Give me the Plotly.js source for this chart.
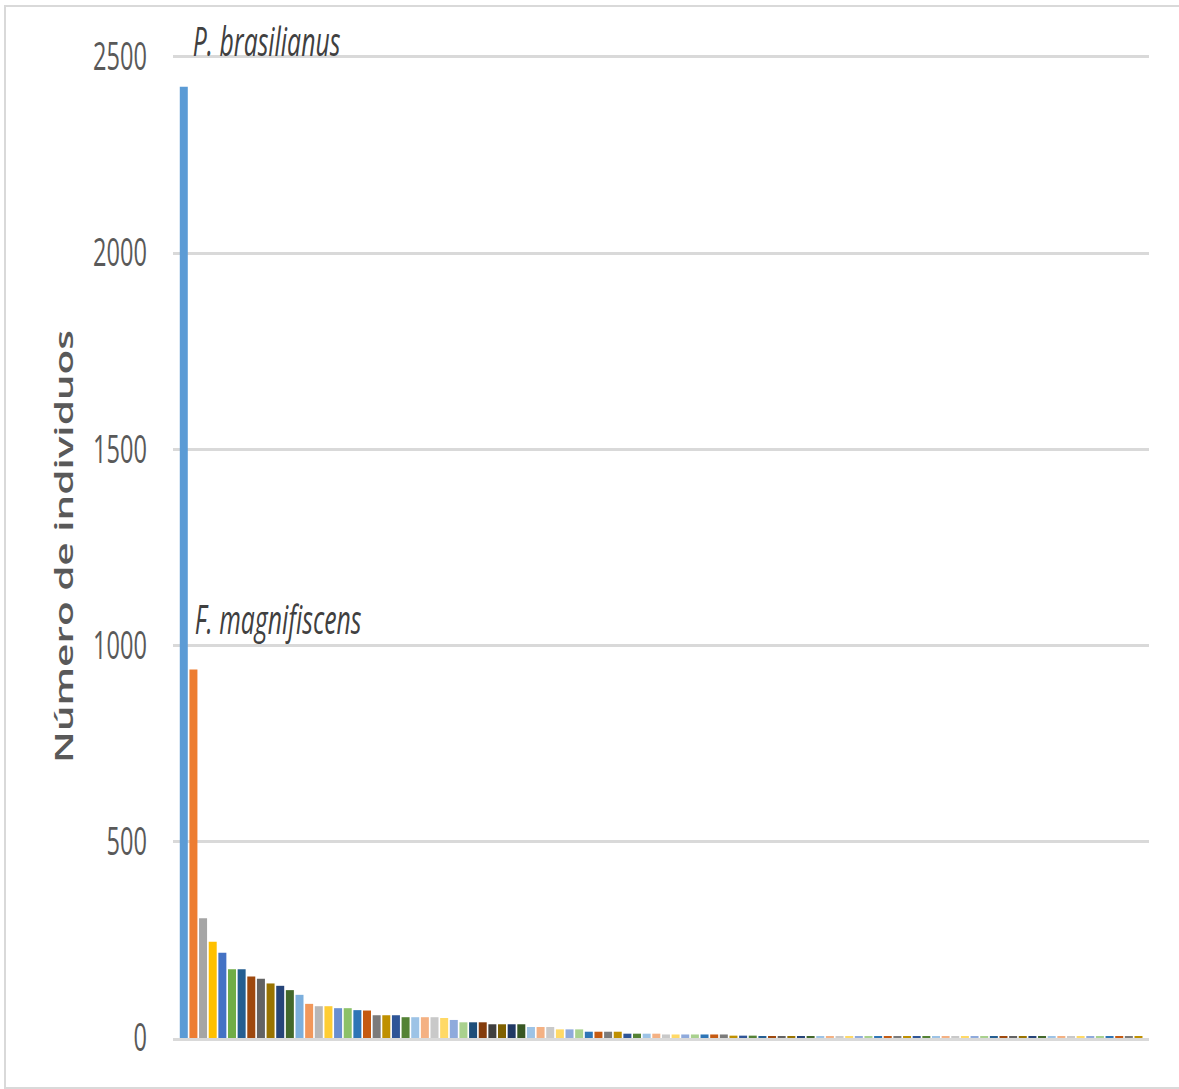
<!DOCTYPE html>
<html>
<head>
<meta charset="utf-8">
<script src="https://cdn.plot.ly/plotly-3.0.1.min.js"></script>
<style>
  html, body { margin: 0; padding: 0; background: #fff; overflow: hidden; }
  #wrap { position: relative; width: 1179px; height: 1089px; overflow: hidden; }
  #frame { position: absolute; left: 4px; top: 5px; width: 1300px; height: 1084px;
           border: 2.5px solid #d9d9d9; box-sizing: border-box; pointer-events: none; }
  #chart { position: absolute; left: 0; top: 0; width: 1902px; height: 1089px;
           transform: scaleX(0.62); transform-origin: 0 0; }
</style>
</head>
<body>
<div id="wrap">
  <div id="chart"></div>
  <div id="frame"></div>
</div>
<script>
// Species ranked by abundance (only the two dominant species are named in the chart)
const labeledSpecies = ['P. brasilianus', 'F. magnifiscens'];

// Number of individuals per species (rank order)
const individuals = [
  2424, 939, 305, 245, 217, 175, 175, 157, 151, 139,
  133, 122, 110, 87, 81, 81, 76, 76, 71, 70,
  58, 58, 58, 53, 53, 53, 53, 51, 46, 40,
  40, 40, 35, 35, 35, 35, 28, 28, 28, 22,
  22, 22, 16, 16, 16, 16, 11, 11, 11, 11,
  9, 9, 9, 9, 9, 9, 9, 6, 6, 6,
  5, 5, 5, 5, 5, 5, 5, 5, 5, 5,
  5, 5, 5, 5, 5, 5, 5, 5, 5, 5,
  4, 4, 4, 4, 4, 4, 4, 4, 4, 4,
  4, 4, 4, 4, 4, 4, 4, 4, 4, 4
];

// Rank positions on the category axis
const ranks = individuals.map((_, i) => i);

// Y axis ticks
const yTicks = [0, 500, 1000, 1500, 2000, 2500];
const yTickLabels = ['0', '500', '1000', '1500', '2000', '2500'];

// Office-style colour variations (6 hues x shades)
const shades = {
  base:   ['#5B9BD5', '#ED7D31', '#A5A5A5', '#FFC000', '#4472C4', '#70AD47'],
  dark1:  ['#255E91', '#9E480E', '#636363', '#997300', '#264478', '#43682B'],
  light1: ['#7CAFDD', '#F1975A', '#B7B7B7', '#FFCD33', '#698ED0', '#8CC168'],
  dark2:  ['#2E75B6', '#C55A11', '#7B7B7B', '#BF9000', '#2F5597', '#548235'],
  light2: ['#9DC3E6', '#F4B183', '#C9C9C9', '#FFD966', '#8FAADC', '#A9D18E'],
  dark3:  ['#1E4E79', '#843C0C', '#3F3F3F', '#7F6000', '#203864', '#385723']
};
const shadeGroups = ['base', 'dark1', 'light1', 'dark2', 'light2', 'dark3',
  'light2', 'dark2', 'light2', 'dark2', 'dark1', 'light2', 'dark2', 'light2',
  'dark1', 'light2', 'dark2'];
const barColors = ranks.map(i => shades[shadeGroups[Math.floor(i / 6)]][i % 6]);

const trace = {
  type: 'bar',
  x: ranks,
  y: individuals,
  marker: { color: barColors, line: { width: 0 } },
  hoverinfo: 'y'
};

const layout = {
  width: 1902,
  height: 1089,
  margin: { l: 278.5, r: 48.3, t: 55, b: 51, pad: 0 },
  paper_bgcolor: 'rgba(0,0,0,0)',
  plot_bgcolor: 'rgba(0,0,0,0)',
  bargap: 0.17,
  showlegend: false,
  font: { family: 'Open Sans, Noto Sans, sans-serif', color: '#595959' },
  xaxis: {
    type: 'linear',
    range: [-1.12, 100.14],
    showgrid: false,
    zeroline: false,
    showticklabels: false,
    ticks: '',
    showline: true,
    linecolor: '#D9D9D9',
    linewidth: 3,
    fixedrange: true
  },
  yaxis: {
    range: [0, 2505],
    tickvals: yTicks,
    ticktext: yTickLabels,
    showgrid: true,
    gridcolor: '#D9D9D9',
    gridwidth: 3,
    zeroline: false,
    showline: false,
    ticks: '',
    ticklabelstandoff: 41,
    tickfont: { family: 'Open Sans, Noto Sans, sans-serif', size: 38, color: '#595959' },
    title: {
      text: 'Número de individuos',
      font: { family: 'Open Sans, Noto Sans, sans-serif', size: 40.5, color: '#595959', weight: 600 },
      standoff: 18
    },
    automargin: false,
    fixedrange: true
  },
  annotations: [
    {
      x: 0, y: 1.0148, xref: 'x', yref: 'paper',
      text: '<i>' + labeledSpecies[0] + '</i>',
      showarrow: false, xanchor: 'left', yanchor: 'middle', xshift: 13,
      font: { family: 'Open Sans, Noto Sans, sans-serif', size: 40, color: '#404040' }
    },
    {
      x: 0, y: 1068, xref: 'x', yref: 'y',
      text: '<i>' + labeledSpecies[1] + '</i>',
      showarrow: false, xanchor: 'left', yanchor: 'middle', xshift: 16,
      font: { family: 'Open Sans, Noto Sans, sans-serif', size: 40, color: '#404040' }
    }
  ]
};

Plotly.newPlot('chart', [trace], layout, { displayModeBar: false, responsive: false });
</script>
</body>
</html>
